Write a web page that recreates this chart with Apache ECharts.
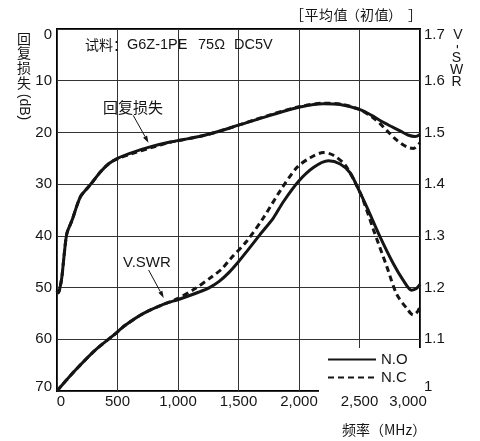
<!DOCTYPE html>
<html><head><meta charset="utf-8">
<script src="https://cdn.jsdelivr.net/npm/echarts@6/dist/echarts.min.js"></script>
<style>html,body{margin:0;padding:0;background:#fff}#c{width:480px;height:441px}</style>
</head><body><div id="c"></div>
<script>
// ---- data (frequency MHz, value) ----
const xTicks = [0, 500, 1000, 1500, 2000, 2500, 3000];
const rlTicks = [0, 10, 20, 30, 40, 50, 60, 70];
const vswrTicks = [1, 1.1, 1.2, 1.3, 1.4, 1.5, 1.6, 1.7];
const seriesNames = ['N.O', 'N.C'];

// Return loss (dB), N.O
const rlNO = [[0,50.6],[10,51.0],[22,50.3],[40,48.0],[60,43.5],[82,39.5],[124,37.0],[192,32.5],[250,30.8],[300,29.4],[360,27.6],[430,26.0],[500,25.0],[633,23.8],[770,22.8],[936,21.85],[1018,21.5],[1211,20.6],[1350,19.7],[1500,18.6],[1762,16.7],[2009,15.1],[2202,14.45],[2340,14.6],[2505,15.6],[2600,16.7],[2670,17.7],[2760,18.8],[2835,19.7],[2900,20.5],[2960,20.8],[3000,20.4]];
// Return loss (dB), N.C
const rlNC = [[0,50.6],[10,51.0],[22,50.3],[40,48.0],[60,43.5],[82,39.5],[124,37.0],[192,32.5],[250,30.8],[300,29.4],[360,27.6],[430,26.0],[500,25.1],[633,24.0],[770,23.0],[936,21.9],[1018,21.5],[1211,20.6],[1350,19.7],[1500,18.6],[1762,16.6],[2009,15.0],[2202,14.35],[2340,14.5],[2505,15.6],[2615,17.2],[2670,18.3],[2725,19.6],[2808,21.5],[2890,22.8],[2945,23.1],[3000,22.0]];
// V.SWR, N.O
const vswrNO = [[0,1.0],[14,1.004],[151,1.04],[316,1.079],[468,1.108],[564,1.127],[715,1.15],[894,1.169],[1004,1.177],[1169,1.191],[1260,1.200],[1340,1.212],[1420,1.229],[1500,1.250],[1569,1.27],[1679,1.303],[1789,1.335],[1871,1.366],[1995,1.405],[2119,1.432],[2243,1.445],[2340,1.439],[2422,1.422],[2477,1.397],[2560,1.356],[2670,1.298],[2780,1.246],[2862,1.214],[2931,1.195],[2970,1.198],[3000,1.206]];
// V.SWR, N.C
const vswrNC = [[0,1.0],[14,1.004],[151,1.04],[316,1.079],[468,1.108],[564,1.127],[715,1.15],[894,1.169],[1000,1.179],[1142,1.198],[1280,1.221],[1362,1.236],[1431,1.255],[1569,1.29],[1706,1.335],[1844,1.387],[1982,1.432],[2092,1.451],[2202,1.461],[2284,1.456],[2381,1.437],[2460,1.405],[2519,1.376],[2615,1.312],[2725,1.241],[2808,1.187],[2890,1.16],[2945,1.147],[2978,1.153],[3000,1.163]];

// annotation arrows (in frequency / return-loss coordinates)
const arrowRL = [[630,16.7],[756,22.0]];
const arrowVSWR = [[757,46.6],[882,52.0]];

const FONT = "'Liberation Sans', Arial, 'Noto Sans CJK SC', sans-serif";
const CJK = "'Noto Sans CJK SC', sans-serif";
const INK = '#151515';

const chart = echarts.init(document.getElementById('c'), null, {renderer:'canvas'});

function fmtX(v){ return v.toLocaleString('en-US'); }

const lbl = {fontSize:15, color:INK, fontFamily:FONT};

function line(name, data, yIdx, dashed){
  return {
    name, type:'line', data, yAxisIndex:yIdx, symbol:'none', smooth:0.3,
    animation:false, z: dashed ? 4 : 3,
    itemStyle:{color:INK},
    lineStyle:{width:3, color:INK, type: dashed ? [6,4] : 'solid', cap:'butt'}
  };
}

chart.setOption({
  animation:false,
  backgroundColor:'#fff',
  grid:{left:57, right:60, top:29, bottom:50, show:true, borderColor:'#000', borderWidth:2, backgroundColor:'transparent'},
  legend:{
    data:seriesNames, orient:'vertical', left:319, top:348, padding:[4,14,8,8],
    itemWidth:48, itemHeight:14, itemGap:3, backgroundColor:'#fff', selectedMode:false,
    itemStyle:{opacity:0},
    textStyle:{fontSize:15, color:INK, fontFamily:FONT}
  },
  xAxis:{
    type:'value', min:xTicks[0], max:xTicks[xTicks.length-1], interval:500,
    axisLine:{show:false}, axisTick:{show:false},
    splitLine:{show:true, lineStyle:{color:'#333', width:1}},
    axisLabel:Object.assign({}, lbl, {margin:3,
      formatter:v => v===xTicks[0] ? '{a|'+fmtX(v)+'}' : (v===xTicks[xTicks.length-1] ? '{b|'+fmtX(v)+'}' : fmtX(v)),
      rich:{a:Object.assign({}, lbl, {padding:[0,0,0,8]}), b:Object.assign({}, lbl, {padding:[0,24,0,0]})}
    })
  },
  yAxis:[{
    type:'value', inverse:true, min:rlTicks[0], max:rlTicks[rlTicks.length-1], interval:10,
    axisLine:{show:false}, axisTick:{show:false},
    splitLine:{show:true, lineStyle:{color:'#333', width:1}},
    axisLabel:Object.assign({}, lbl, {margin:5,
      formatter:v => v===0 ? '{t|0}' : (v===70 ? '{m|70}' : String(v)),
      rich:{t:Object.assign({}, lbl, {padding:[12,0,0,0]}), m:Object.assign({}, lbl, {padding:[0,0,8,0]})}
    })
  },{
    type:'value', position:'right', min:vswrTicks[0], max:vswrTicks[vswrTicks.length-1], interval:0.1,
    axisLine:{show:false}, axisTick:{show:false}, splitLine:{show:false},
    axisLabel:Object.assign({}, lbl, {margin:4,
      formatter:v => {
        const r = Math.round(v*10)/10;
        if (r === 1) return '{m|1}';
        if (r === 1.7) return '{t|1.7}';
        return r.toFixed(1);
      },
      rich:{t:Object.assign({}, lbl, {padding:[12,0,0,0]}), m:Object.assign({}, lbl, {padding:[0,0,8,0]})}
    })
  }],
  series:[
    line(seriesNames[0], rlNO, 0, false),
    line(seriesNames[1], rlNC, 0, true),
    line(seriesNames[0], vswrNO, 1, false),
    line(seriesNames[1], vswrNC, 1, true)
  ]
});

function arrow(pair){
  const p0 = chart.convertToPixel({xAxisIndex:0, yAxisIndex:0}, pair[0]);
  const p1 = chart.convertToPixel({xAxisIndex:0, yAxisIndex:0}, pair[1]);
  const dx = p1[0]-p0[0], dy = p1[1]-p0[1];
  const L = Math.sqrt(dx*dx+dy*dy), ux = dx/L, uy = dy/L;
  const hl = 7, hw = 2.3;
  const bx = p1[0]-ux*hl, by = p1[1]-uy*hl;
  return [
    {type:'line', shape:{x1:p0[0], y1:p0[1], x2:bx, y2:by}, style:{stroke:INK, lineWidth:1}, z:10},
    {type:'polygon', shape:{points:[[p1[0],p1[1]],[bx-uy*hw, by+ux*hw],[bx+uy*hw, by-ux*hw]]}, style:{fill:INK}, z:10}
  ];
}

const txt = (x, y, text, o) => Object.assign({type:'text', x, y, z:10,
  style:Object.assign({text, fill:INK, font:'14px '+FONT, textVerticalAlign:'middle'}, o||{})});

// bracketed note, placed glyph by glyph
const noteChars = ['［','平','均','值','（','初','值','）','］'];
const noteX = [297, 311.5, 326, 340.5, 353, 367, 381.5, 395, 415];
const noteEls = noteChars.map((ch, i) => txt(noteX[i], 15, ch, {font:'14px '+CJK, textAlign:'center'}));

const g = noteEls.concat([
  txt(85, 45, '试料：', {font:'14px '+CJK}),
  txt(127, 45, 'G6Z-1PE', {font:'14.5px '+FONT}),
  txt(198, 45, '75Ω', {font:'14.5px '+FONT}),
  txt(234, 45, 'DC5V', {font:'14.5px '+FONT}),
  txt(103, 107, '回复损失', {font:'15px '+CJK}),
  txt(123, 263, 'V.SWR', {font:'15px '+FONT}),
  txt(342, 430, '频率（MHz）', {font:'14px '+CJK}),
  // left axis name (vertical)
  txt(24, 31, '回\n复\n损\n失', {font:'14px '+CJK, textAlign:'center', textVerticalAlign:'top', lineHeight:14.7}),
  {type:'text', x:24, y:107, rotation:-Math.PI/2, z:10,
    style:{text:'(dB)', fill:INK, font:'14px '+FONT, textAlign:'center', textVerticalAlign:'middle'}},
  // right axis name (vertical)
  txt(458, 35, 'V', {font:'14px '+FONT, textAlign:'center'}),
  {type:'text', x:457, y:46.5, rotation:-Math.PI/2, z:10,
    style:{text:'-', fill:INK, font:'14px '+FONT, textAlign:'center', textVerticalAlign:'middle'}},
  txt(456.5, 52.5, 'S\nW\nR', {font:'14px '+FONT, textAlign:'center', textVerticalAlign:'top', lineHeight:11.7})
]).concat(arrow(arrowRL), arrow(arrowVSWR));

chart.setOption({graphic:g});
</script></body></html>
